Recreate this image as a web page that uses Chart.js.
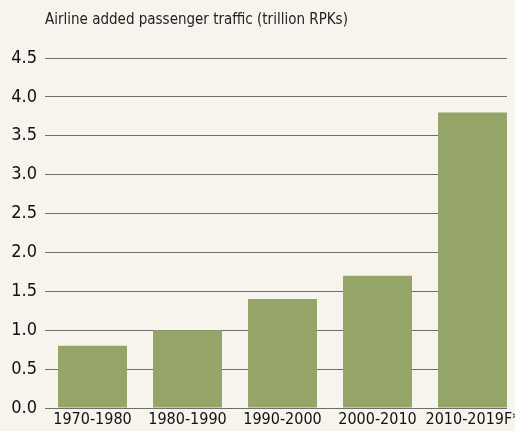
<!DOCTYPE html>
<html>
<head>
<meta charset="utf-8">
<script src="https://cdn.jsdelivr.net/npm/chart.js@4/dist/chart.umd.min.js"></script>
<style>
  html, body { margin: 0; padding: 0; background: #f7f4ed; }
  #wrap { width: 515px; height: 431px; position: relative; }
</style>
</head>
<body>
<div id="wrap"><canvas id="c" width="515" height="431"></canvas></div>
<script>
const categories = ["1970-1980", "1980-1990", "1990-2000", "2000-2010", "2010-2019F*"];
const addedTraffic = [0.8, 1.0, 1.4, 1.7, 3.8];
const yTicks = [0, 0.5, 1.0, 1.5, 2.0, 2.5, 3.0, 3.5, 4.0, 4.5];
const chartTitle = "Airline added passenger traffic (trillion RPKs)";

const FONT = "'DejaVu Sans Condensed', 'DejaVu Sans', sans-serif";

new Chart(document.getElementById('c'), {
  type: 'bar',
  data: {
    datasets: [{
      data: addedTraffic.map((v, i) => ({ x: i, y: v })),
      backgroundColor: '#95a567',
      borderWidth: 0,
      categoryPercentage: 1,
      barPercentage: 0.726
    }]
  },
  options: {
    responsive: false,
    animation: false,
    layout: { padding: { left: 0, right: 8, top: 0, bottom: 0 } },
    plugins: {
      legend: { display: false },
      tooltip: { enabled: false },
      title: {
        display: true,
        text: chartTitle,
        align: 'start',
        fullSize: false,
        color: '#222',
        font: { family: FONT, size: 15, weight: 'normal', lineHeight: 1.2 },
        padding: { top: 11, bottom: 29 }
      }
    },
    scales: {
      x: {
        type: 'linear',
        min: -0.5,
        max: 4.363,
        offset: false,
        afterBuildTicks: (s) => { s.ticks = categories.map((c, i) => ({ value: i })); },
        afterFit: (s) => { s.height = 23; s.paddingLeft = 0; s.paddingRight = 0; },
        grid: { display: false, drawTicks: false },
        border: { display: false },
        ticks: {
          callback: (v) => categories[v] ?? '',
          color: '#111',
          padding: 2,
          autoSkip: false,
          maxRotation: 0,
          font: { family: FONT, size: 16 }
        }
      },
      y: {
        min: 0,
        max: 4.5,
        afterBuildTicks: (s) => { s.ticks = yTicks.map(v => ({ value: v })); },
        afterFit: (s) => { s.width = 45; },
        grid: { color: '#6e6e6e', lineWidth: 1, drawTicks: false },
        border: { display: false },
        ticks: {
          callback: (v) => Number(v).toFixed(1),
          color: '#111',
          padding: 8,
          font: { family: FONT, size: 18 }
        }
      }
    }
  }
});
</script>
</body>
</html>
